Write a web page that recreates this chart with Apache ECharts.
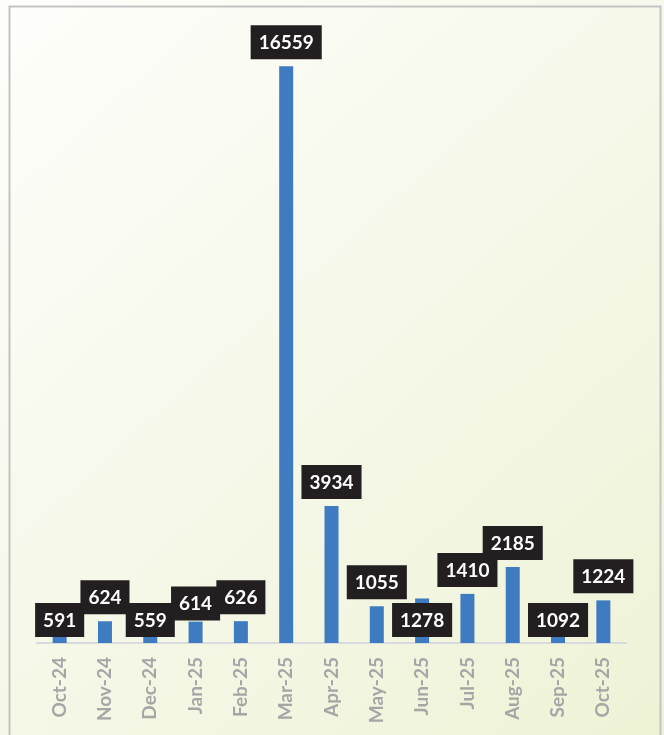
<!DOCTYPE html>
<html>
<head>
<meta charset="utf-8">
<script src="https://cdn.jsdelivr.net/npm/echarts@6/dist/echarts.min.js"></script>
<style>
html,body{margin:0;padding:0;background:#fbfcf4;}
#c{width:664px;height:735px;}
</style>
</head>
<body>
<div id="c"></div>
<script>
const categories = ['Oct-24','Nov-24','Dec-24','Jan-25','Feb-25','Mar-25','Apr-25','May-25','Jun-25','Jul-25','Aug-25','Sep-25','Oct-25'];
const values = [591, 624, 559, 614, 626, 16559, 3934, 1055, 1278, 1410, 2185, 1092, 1224];

// label placement style (Excel-like best fit)
const labelPlacement = ['insideBottom','top','insideBottom','topTight','top','top','top','top','insideBottom','top','top','insideBottom','top'];

const chart = echarts.init(document.getElementById('c'), null, {renderer:'canvas'});

const data = values.map((v, i) => {
  const p = labelPlacement[i];
  let label;
  if (p === 'insideBottom') label = {position:'insideBottom', distance:6};
  else if (p === 'topTight') label = {position:'top', distance:1};
  else label = {position:'top', distance:7};
  return {value: v, label};
});

chart.setOption({
  animation:false,
  backgroundColor:{
    type:'linear', x:0, y:0, x2:1, y2:1,
    colorStops:[{offset:0,color:'#fefefb'},{offset:0.5,color:'#f6f8e9'},{offset:1,color:'#eef3d6'}]
  },
  graphic:[{
    type:'rect', shape:{x:9.5,y:6.5,width:651,height:740},
    style:{fill:'none', stroke:'#c4c4c4', lineWidth:2}, silent:true
  }],
  grid:{left:37, right:38, top:16, bottom:92},
  xAxis:{
    type:'category', data:categories,
    axisLine:{lineStyle:{color:'#d9dadf', width:2}},
    axisTick:{show:false},
    axisLabel:{rotate:90, color:'#a6a6a6', fontWeight:'bold', fontSize:19, fontFamily:'Lato', margin:14, interval:0}
  },
  yAxis:{type:'value', min:0, max:18000, show:false, splitLine:{show:false}},
  series:[{
    type:'bar', data:data, barWidth:14,
    itemStyle:{color:'#3f7bc1'},
    label:{
      show:true, color:'#ffffff', fontWeight:'bold', fontSize:19, fontFamily:'Lato',
      backgroundColor:'#231f20', padding:[7,8,6,8], lineHeight:21
    }
  }]
});
</script>
</body>
</html>
